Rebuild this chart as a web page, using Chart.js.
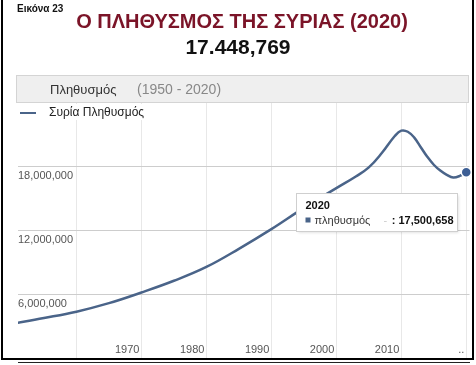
<!DOCTYPE html>
<html>
<head>
<meta charset="utf-8">
<script src="https://cdn.jsdelivr.net/npm/chart.js@4.4.0/dist/chart.umd.min.js"></script>
<style>
  html, body { margin: 0; padding: 0; background: #fff; }
  body { width: 476px; height: 365px; position: relative; overflow: hidden; font-family: Arial, "Liberation Sans", sans-serif; }
  #chart { position: absolute; left: 0; top: 0; }
  #fig { position: absolute; left: 17px; top: 3px; font-size: 10px; font-weight: bold; color: #111; }
  #title { position: absolute; left: 0; width: 484px; top: 10px; text-align: center; font-size: 20px; font-weight: bold; color: #7b1428; }
  #total { position: absolute; left: 0; width: 476px; top: 35px; text-align: center; font-size: 21px; font-weight: bold; color: #111; }
  #bar { position: absolute; left: 16px; top: 75px; width: 453px; height: 28px; background: #efefef; border: 1px solid #d4d4d4; box-sizing: border-box; }
  #bar .name { position: absolute; left: 33px; top: 6px; font-size: 13px; color: #333; }
  #bar .range { position: absolute; left: 120px; top: 5px; font-size: 14px; color: #888; }
  #legend { position: absolute; left: 16px; top: 104px; width: 136px; height: 16px; background: #fff; }
  #legend .swatch { position: absolute; left: 4px; top: 8px; width: 16px; height: 2px; background: #4a6489; }
  #legend .txt { position: absolute; left: 33px; top: 1px; font-size: 12px; color: #222; }
  #frame { position: absolute; left: 1px; top: -2px; width: 469px; height: 360px; border: 2px solid #000; border-top: none; }
  #axisline { position: absolute; left: 18px; top: 362px; width: 452px; height: 1px; background: #222; }
</style>
</head>
<body>
<canvas id="chart" width="476" height="365"></canvas>
<div id="fig">Εικόνα 23</div>
<div id="title">Ο ΠΛΗΘΥΣΜΟΣ ΤΗΣ ΣΥΡΙΑΣ (2020)</div>
<div id="total">17.448,769</div>
<div id="bar"><span class="name">Πληθυσμός</span><span class="range">(1950 - 2020)</span></div>
<div id="legend"><span class="swatch"></span><span class="txt">Συρία Πληθυσμός</span></div>
<div id="frame"></div>
<div id="axisline"></div>
<script>
// population of Syria
const years = [1950, 1955, 1960, 1965, 1970, 1975, 1980, 1985, 1990, 1995, 2000, 2003, 2005, 2007, 2009, 2010, 2011, 2012, 2013, 2014, 2015, 2016, 2017, 2018, 2019, 2020];
const population = [3250000, 3800000, 4400000, 5200000, 6200000, 7300000, 8600000, 10300000, 12150000, 14150000, 16000000, 17100000, 17950000, 19300000, 20900000, 21400000, 21300000, 20750000, 19850000, 18950000, 18200000, 17650000, 17250000, 17000000, 17150000, 17500658];

const xGridYears = [1960, 1970, 1980, 1990, 2000, 2010, 2020];
const xLabelYears = [1970, 1980, 1990, 2000, 2010, 2020];
const xLabels = ['1970', '1980', '1990', '2000', '2010', '..'];
const yTicks = [6000000, 12000000, 18000000];
const yLabels = ['6,000,000', '12,000,000', '18,000,000'];

const tipYear = '2020';
const tipName = 'πληθυσμός';
const tipValue = '17,500,658';

const lineColor = '#4a6489';

const tickLabels = {
    id: 'tickLabels',
    beforeDatasetsDraw(chart) {
        const ctx = chart.ctx;
        const xs = chart.scales.x, ys = chart.scales.y;
        ctx.save();
        ctx.font = '11px Arial, "Liberation Sans", sans-serif';
        ctx.fillStyle = '#555';
        ctx.textBaseline = 'middle';
        ctx.textAlign = 'right';
        xLabelYears.forEach((yr, i) => {
            ctx.fillText(xLabels[i], xs.getPixelForValue(yr) - 2, chart.chartArea.bottom - 9);
        });
        ctx.textAlign = 'left';
        yTicks.forEach((v, i) => {
            ctx.fillText(yLabels[i], chart.chartArea.left, ys.getPixelForValue(v) + 9);
        });
        ctx.restore();
    }
};

const fixedTip = {
    id: 'fixedTip',
    afterDatasetsDraw(chart) {
        const meta = chart.getDatasetMeta(0);
        const pt = meta.data[meta.data.length - 1];
        const ctx = chart.ctx;
        const bx = Math.round(pt.x - 170) + 0.5, by = Math.round(pt.y + 21) + 0.5;
        const bw = 161, bh = 38;
        ctx.save();
        ctx.shadowColor = 'rgba(0,0,0,0.15)';
        ctx.shadowBlur = 3;
        ctx.shadowOffsetX = 1;
        ctx.shadowOffsetY = 1;
        ctx.fillStyle = '#fff';
        ctx.fillRect(bx, by, bw, bh);
        ctx.shadowColor = 'transparent';
        ctx.strokeStyle = '#cfcfcf';
        ctx.lineWidth = 1;
        ctx.strokeRect(bx, by, bw, bh);
        ctx.textBaseline = 'middle';
        ctx.fillStyle = '#111';
        ctx.font = 'bold 11px Arial, "Liberation Sans", sans-serif';
        ctx.fillText(tipYear, bx + 9, by + 12);
        ctx.fillStyle = lineColor;
        ctx.fillRect(bx + 9, by + 24, 5, 5);
        ctx.fillStyle = '#333';
        ctx.font = '11px Arial, "Liberation Sans", sans-serif';
        ctx.fillText(tipName, bx + 18, by + 27);
        ctx.fillStyle = '#ccc';
        ctx.fillText('-', bx + 87, by + 27);
        ctx.fillStyle = '#111';
        ctx.font = 'bold 11px Arial, "Liberation Sans", sans-serif';
        ctx.textAlign = 'right';
        ctx.fillText(': ' + tipValue, bx + bw - 4, by + 27);
        ctx.restore();
    }
};

const pointRadius = years.map((y, i) => i === years.length - 1 ? 5 : 0);

new Chart(document.getElementById('chart'), {
    type: 'line',
    data: {
        datasets: [{
            data: years.map((y, i) => ({ x: y, y: population[i] })),
            borderColor: lineColor,
            borderWidth: 2.5,
            tension: 0.4,
            pointRadius: pointRadius,
            pointBackgroundColor: '#3d5f95',
            pointBorderColor: '#fff',
            pointBorderWidth: 1.5,
            clip: { left: 0, top: 8, right: 8, bottom: 0 },
            fill: false
        }]
    },
    options: {
        responsive: false,
        animation: false,
        events: [],
        layout: { padding: { left: 18, top: 103, right: 6, bottom: 4 } },
        plugins: { legend: { display: false }, tooltip: { enabled: false } },
        scales: {
            x: {
                type: 'linear',
                min: 1951,
                max: 2020.5,
                afterBuildTicks: s => { s.ticks = xGridYears.map(v => ({ value: v })); },
                ticks: { display: false },
                grid: { color: '#e8e8e8', drawTicks: false },
                border: { display: false }
            },
            y: {
                min: 0,
                max: 24000000,
                afterBuildTicks: s => { s.ticks = yTicks.map(v => ({ value: v })); },
                ticks: { display: false },
                grid: { color: '#cdcdcd', drawTicks: false },
                border: { display: false }
            }
        }
    },
    plugins: [tickLabels, fixedTip]
});
</script>
</body>
</html>
